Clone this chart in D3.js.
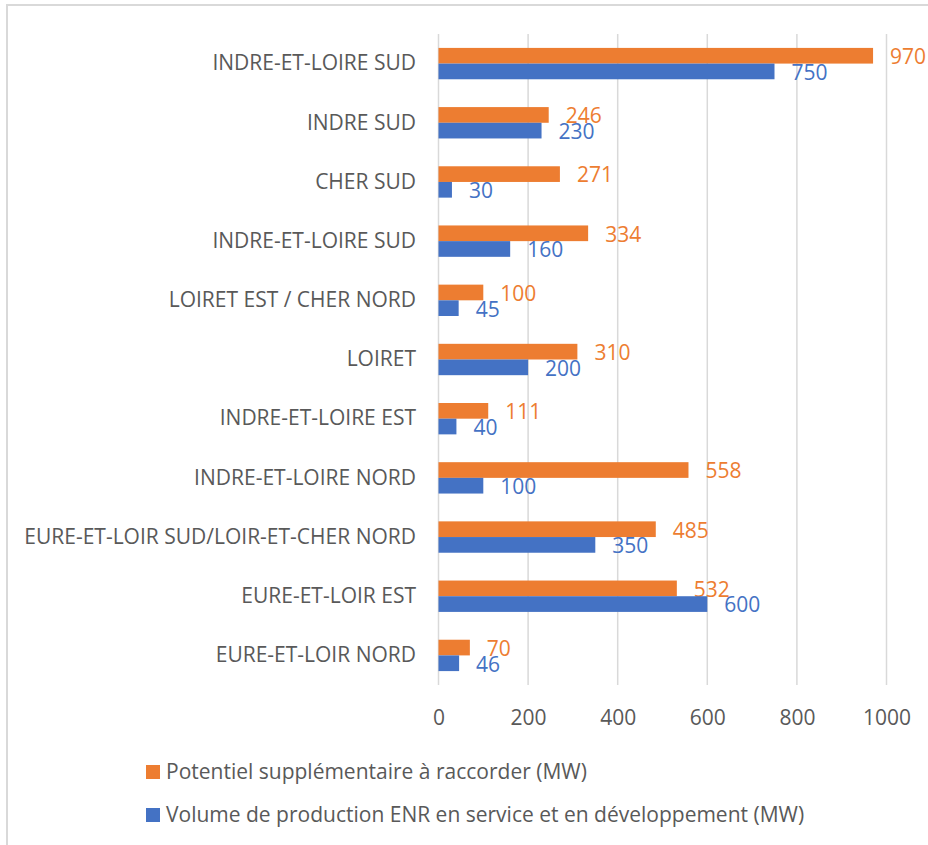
<!DOCTYPE html>
<html>
<head>
<meta charset="utf-8">
<script src="https://cdn.jsdelivr.net/npm/d3@7"></script>
<style>
  html, body { margin: 0; padding: 0; background: #fff; }
  svg { display: block; }
  text { font-family: "Open Sans", "Noto Sans", sans-serif; }
</style>
</head>
<body>
<svg id="chart" width="928" height="845"></svg>
<script>
const categories = [
  "INDRE-ET-LOIRE SUD",
  "INDRE SUD",
  "CHER SUD",
  "INDRE-ET-LOIRE SUD ",
  "LOIRET EST / CHER NORD",
  "LOIRET",
  "INDRE-ET-LOIRE EST",
  "INDRE-ET-LOIRE NORD",
  "EURE-ET-LOIR SUD/LOIR-ET-CHER NORD",
  "EURE-ET-LOIR EST",
  "EURE-ET-LOIR NORD"
];
const potentiel = [970, 246, 271, 334, 100, 310, 111, 558, 485, 532, 70];
const volume = [750, 230, 30, 160, 45, 200, 40, 100, 350, 600, 46];
const xTicks = [0, 200, 400, 600, 800, 1000];
const seriesNames = [
  "Potentiel supplémentaire à raccorder (MW)",
  "Volume de production ENR en service et en développement (MW)"
];
const seriesColors = ["#ED7D31", "#4472C4"];

const svg = d3.select("#chart");
const textColor = "#595959";
const fontSize = 21;

// frame
svg.append("line").attr("x1", 7).attr("x2", 7).attr("y1", 5).attr("y2", 845)
  .attr("stroke", "#d9d9d9").attr("stroke-width", 2);
svg.append("line").attr("x1", 6).attr("x2", 928).attr("y1", 5).attr("y2", 5)
  .attr("stroke", "#d9d9d9").attr("stroke-width", 2);

const x = d3.scaleLinear().domain([0, 1000]).range([438.5, 886.5]);
const y = d3.scaleBand().domain(categories).range([34, 685]).paddingInner(0.47).paddingOuter(0.235);
const ySub = d3.scaleBand().domain([0, 1]).range([0, y.bandwidth()]);

// gridlines
svg.append("g").selectAll("line").data(xTicks).join("line")
  .attr("x1", d => x(d)).attr("x2", d => x(d))
  .attr("y1", 34).attr("y2", 685)
  .attr("stroke", "#d9d9d9").attr("stroke-width", 1.5);

// x axis tick labels
const xAxis = d3.axisBottom(x).tickValues(xTicks).tickFormat(d3.format("d")).tickSize(0).tickPadding(0);
const gx = svg.append("g").attr("transform", "translate(0,718)").call(xAxis);
gx.select(".domain").remove();
gx.selectAll("text").attr("fill", textColor).style("font-size", fontSize + "px")
  .style("font-family", "'Open Sans', sans-serif").attr("dy", "0.35em");

// y labels
const yAxis = d3.axisLeft(y).tickSize(0).tickPadding(0);
const gy = svg.append("g").attr("transform", "translate(416,0)").call(yAxis);
gy.select(".domain").remove();
gy.selectAll("text").attr("fill", textColor).style("font-size", fontSize + "px")
  .style("font-family", "'Open Sans', sans-serif");

const series = [potentiel, volume];
series.forEach((vals, si) => {
  const g = svg.append("g");
  g.selectAll("rect").data(vals).join("rect")
    .attr("x", x(0))
    .attr("y", (d, i) => y(categories[i]) + ySub(si))
    .attr("width", d => x(d) - x(0))
    .attr("height", ySub.bandwidth())
    .attr("fill", seriesColors[si]);
  g.selectAll("text").data(vals).join("text")
    .attr("x", d => x(d) + 17)
    .attr("y", (d, i) => y(categories[i]) + ySub(si) + ySub.bandwidth() / 2 + 1)
    .attr("dy", "0.35em")
    .attr("fill", seriesColors[si])
    .style("font-size", fontSize + "px")
    .text(d => d);
});

// legend
const legend = svg.append("g");
seriesNames.forEach((name, i) => {
  const ly = 772 + i * 43;
  legend.append("rect").attr("x", 146).attr("y", ly - 7).attr("width", 14).attr("height", 14)
    .attr("fill", seriesColors[i]);
  legend.append("text").attr("x", 166).attr("y", ly).attr("dy", "0.35em")
    .attr("fill", textColor).style("font-size", fontSize + "px").text(name);
});
</script>
</body>
</html>
